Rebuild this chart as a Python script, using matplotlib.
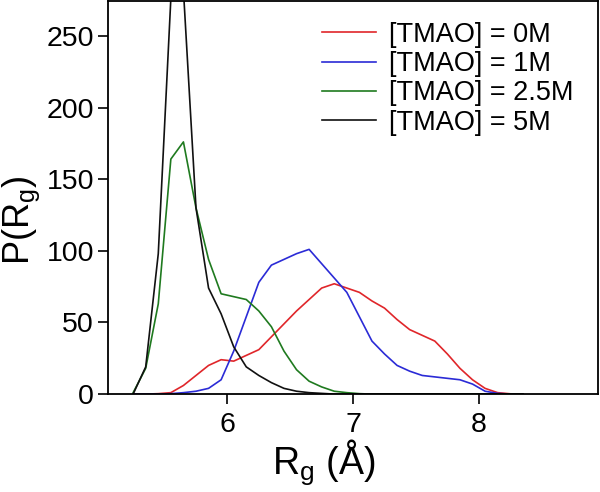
import matplotlib
matplotlib.use('Agg')
import matplotlib.pyplot as plt

plt.rcParams['font.family'] = ['Liberation Sans', 'DejaVu Sans']
plt.rcParams['mathtext.default'] = 'regular'

# bin centres of the Rg histograms (Angstrom)
rg = [5.25, 5.35, 5.45, 5.55, 5.65, 5.75, 5.85, 5.95, 6.05, 6.15, 6.25,
      6.35, 6.45, 6.55, 6.65, 6.75, 6.85, 6.95, 7.05, 7.15, 7.25, 7.35,
      7.45, 7.55, 7.65, 7.75, 7.85, 7.95, 8.05, 8.15, 8.25, 8.35]

p_0m = [0, 0, 0.3, 1, 6, 13, 20, 24, 23, 27, 31, 40, 49, 58, 66, 74, 77,
        74, 71, 65, 60, 52, 45, 41, 37, 28, 18, 10, 4, 1, 0.2, 0]
p_1m = [0, 0, 0, 0.3, 1, 2, 4, 10, 30, 54, 78, 90, 94, 98, 101, 91, 81,
        71, 54, 37, 28, 20, 16, 13, 12, 11, 10, 7, 2, 0.5, 0, 0]
p_25m = [1, 18, 63, 164, 176, 130, 94, 70, 68, 66, 58, 47, 30, 17, 9, 5, 2,
         1, 0.3, 0, 0, 0, 0, 0, 0, 0, 0, 0, 0, 0, 0, 0]
p_5m = [0, 19, 98, 276, 282, 130, 74, 56, 33, 19, 13, 8, 4, 2, 1, 0.5, 0,
        0, 0, 0, 0, 0, 0, 0, 0, 0, 0, 0, 0, 0, 0, 0]

labels = ['[TMAO] = 0M', '[TMAO] = 1M', '[TMAO] = 2.5M', '[TMAO] = 5M']
colors = ['#e0262a', '#2b2bd6', '#1f7a1f', '#111111']

fig = plt.figure(figsize=(6.0, 4.92), dpi=100)
ax = fig.add_axes([0.18, 0.199, 0.817, 0.798])

for ys, lab, c in zip([p_0m, p_1m, p_25m, p_5m], labels, colors):
    ax.plot(rg, ys, color=c, lw=1.2, label=lab)

ax.set_xlim(5.05, 8.95)
ax.set_ylim(0, 274)
ax.set_xticks([6, 7, 8])
ax.set_yticks([0, 50, 100, 150, 200, 250])
ax.tick_params(direction='out', length=7, width=1.2, labelsize=20.5)
ax.tick_params(axis='x', pad=6)
ax.tick_params(axis='y', pad=3)
for s in ax.spines.values():
    s.set_linewidth(1.3)

ax.set_xlabel('R$_g$ (Å)', fontsize=27)
ax.set_ylabel('P(R$_g$)', fontsize=26)
ax.xaxis.set_label_coords(0.439, -0.11)
ax.yaxis.set_label_coords(-0.135, 0.443)

ax.legend(loc='upper right', frameon=False, fontsize=19.5, handlelength=2.0,
          handletextpad=0.5, labelspacing=0.12, bbox_to_anchor=(1.0, 1.01))

fig.savefig('out.png', dpi=100)
